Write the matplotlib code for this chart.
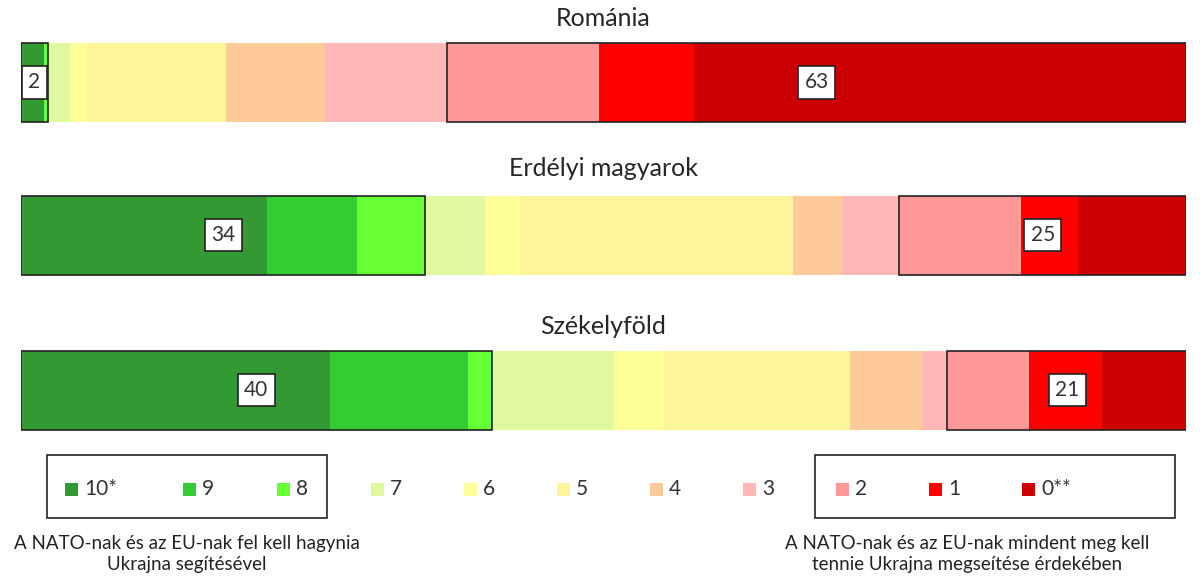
import numpy as np
import matplotlib.pyplot as plt
from matplotlib.patches import Rectangle

plt.rcParams['font.family'] = ['Lato', 'DejaVu Sans']

# data
groups = ['Románia', 'Erdélyi magyarok', 'Székelyföld']
scale_labels = ['10*', '9', '8', '7', '6', '5', '4', '3', '2', '1', '0**']
colors = ['#339933', '#33CC33', '#66FF33', '#E0F9A0', '#FFFF99', '#FDF599',
          '#FFCA99', '#FFB7B7', '#FF9999', '#FF0000', '#CC0000']
romania = [1.95, 0.0, 0.35, 1.9, 1.5, 11.9, 8.5, 10.5, 13.0, 8.2, 42.2]
erdely = [21.1, 7.7, 5.9, 5.1, 3.0, 23.5, 4.2, 4.9, 10.4, 4.9, 9.3]
szekely = [26.5, 11.9, 2.0, 10.5, 4.3, 16.0, 6.2, 2.1, 7.0, 6.3, 7.3]
group_labels = [(2, 63), (34, 25), (40, 21)]
left_note = 'A NATO-nak és az EU-nak fel kell hagynia\nUkrajna segítésével'
right_note = 'A NATO-nak és az EU-nak mindent meg kell\ntennie Ukrajna megseítése érdekében'

W, H = 1200, 579
fig = plt.figure(figsize=(12, 5.79), dpi=100)
ax = fig.add_axes([21 / W, 1 - 440 / H, 1165 / W, 440 / H])
ax.set_xlim(0, 100)
ax.set_ylim(440, 0)
ax.axis('off')

bar_y = [82.5, 235, 390]
title_y = [19, 169, 326]
bar_h = 79

for row, (name, vals) in enumerate(zip(groups, [romania, erdely, szekely])):
    y = bar_y[row]
    lefts = np.concatenate([[0], np.cumsum(vals)[:-1]])
    ax.barh(y, vals, left=lefts, height=bar_h, color=colors, linewidth=0)
    ax.text(50, title_y[row], name, ha='center', va='center', fontsize=18, color='#262626')
    total = sum(vals)
    pos_sum = sum(vals[:3])
    neg_start = sum(vals[:8])
    # outline boxes round the two ends
    ax.add_patch(Rectangle((0, y - bar_h / 2), pos_sum, bar_h, fill=False,
                           edgecolor='#222222', linewidth=1.2, zorder=3))
    ax.add_patch(Rectangle((neg_start, y - bar_h / 2), total - neg_start, bar_h, fill=False,
                           edgecolor='#222222', linewidth=1.2, zorder=3))
    lp, ln = group_labels[row]
    for xc, lab in [(pos_sum / 2, lp), (neg_start + (total - neg_start) / 2, ln)]:
        ax.text(xc, y, str(lab), ha='center', va='center', fontsize=15, color='#333333', zorder=4,
                bbox=dict(boxstyle='square,pad=0.3', facecolor='white', edgecolor='#222222', linewidth=1.2))

# legend, drawn by hand
leg_x = [65, 183, 277, 371, 464, 557, 650, 743, 836, 929, 1022]
leg_y = 489
for xpix, lab, col in zip(leg_x, scale_labels, colors):
    fig.patches.append(Rectangle((xpix / W, 1 - (leg_y + 6.5) / H), 13 / W, 13 / H,
                                 transform=fig.transFigure, facecolor=col, edgecolor='none'))
    fig.text((xpix + 19) / W, 1 - leg_y / H, lab, ha='left', va='center', fontsize=15, color='#333333')

for x0, x1 in [(47, 327), (815, 1175)]:
    fig.patches.append(Rectangle((x0 / W, 1 - 518 / H), (x1 - x0) / W, 63 / H,
                                 transform=fig.transFigure, fill=False, edgecolor='#222222', linewidth=1.2))

fig.text(187 / W, 1 - 554 / H, left_note, ha='center', va='center', fontsize=13.5,
         color='#222222', linespacing=1.3)
fig.text(967 / W, 1 - 554 / H, right_note, ha='center', va='center', fontsize=13.5,
         color='#222222', linespacing=1.3)

fig.savefig('out.png', dpi=100)
